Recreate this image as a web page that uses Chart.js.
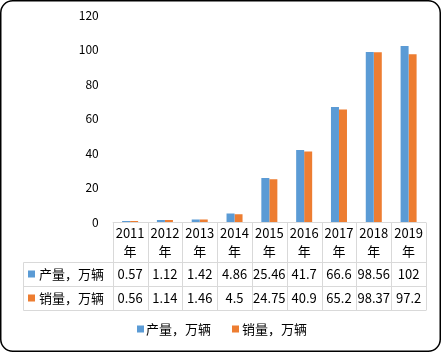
<!DOCTYPE html>
<html><head><meta charset="utf-8">
<script src="https://cdn.jsdelivr.net/npm/chart.js@4/dist/chart.umd.min.js"></script>
<style>html,body{margin:0;padding:0;background:#fff;}#wrap{width:441px;height:352px;position:relative;}</style>
</head><body><div id="wrap"><canvas id="c" width="441" height="352"></canvas></div>
<script>
const categories = ["2011年","2012年","2013年","2014年","2015年","2016年","2017年","2018年","2019年"];
const production = [0.57,1.12,1.42,4.86,25.46,41.7,66.6,98.56,102];
const sales = [0.56,1.14,1.46,4.5,24.75,40.9,65.2,98.37,97.2];
const productionLabels = ["0.57","1.12","1.42","4.86","25.46","41.7","66.6","98.56","102"];
const salesLabels = ["0.56","1.14","1.46","4.5","24.75","40.9","65.2","98.37","97.2"];
const seriesNames = ["产量，万辆","销量，万辆"];
const colors = ["#5b9bd5","#ed7d31"];
const FONT = '"Noto Sans CJK SC","Microsoft YaHei",sans-serif';

const tablePlugin = {
  id:'tablePlugin',
  beforeDraw(chart){
    const ctx = chart.ctx;
    ctx.save();
    ctx.fillStyle='#fff';ctx.fillRect(0,0,chart.width,chart.height);
    ctx.strokeStyle='#000';ctx.lineWidth=1.5;
    ctx.beginPath();
    ctx.roundRect(0.75,0.75,chart.width-1.5,chart.height-1.5,12);
    ctx.stroke();
    ctx.restore();
  },
  afterDraw(chart){
    const ctx = chart.ctx, x = chart.scales.x, ca = chart.chartArea;
    const n = categories.length;
    const colW = (ca.right-ca.left)/n;
    const top = Math.round(ca.bottom)+0.5;
    const r1 = top+40, r2 = r1+24, r3 = r2+24;
    const leftX = 23.5;
    ctx.save();
    ctx.strokeStyle='#d9d9d9';ctx.lineWidth=1;
    ctx.beginPath();
    ctx.moveTo(ca.left,top);ctx.lineTo(ca.right,top);
    [r1,r2,r3].forEach(y=>{ctx.moveTo(leftX,y);ctx.lineTo(ca.right,y);});
    for(let i=0;i<=n;i++){const xx=Math.round(ca.left+i*colW)+0.5;ctx.moveTo(xx,top);ctx.lineTo(xx,r3);}
    ctx.moveTo(leftX,r1);ctx.lineTo(leftX,r3);
    ctx.stroke();
    ctx.fillStyle='#000';ctx.textAlign='center';ctx.textBaseline='middle';
    ctx.font='13px '+FONT;
    for(let i=0;i<n;i++){
      const cx = x.getPixelForValue(i);
      const lab = categories[i];
      ctx.fillText(lab.slice(0,4),cx,top+11);
      ctx.fillText(lab.slice(4),cx,top+29);
      ctx.fillText(productionLabels[i],cx,r1+12);
      ctx.fillText(salesLabels[i],cx,r2+12);
    }
    ctx.textAlign='left';
    [[r1,0],[r2,1]].forEach(([y,k])=>{
      ctx.fillStyle=colors[k];ctx.fillRect(28,y+8,7,7);
      ctx.fillStyle='#000';ctx.fillText(seriesNames[k],39,y+12);
    });
    // legend
    const ly = 329;
    ctx.fillStyle=colors[0];ctx.fillRect(137,ly-3.5,7,7);
    ctx.fillStyle='#000';ctx.fillText(seriesNames[0],146,ly);
    ctx.fillStyle=colors[1];ctx.fillRect(232,ly-3.5,7,7);
    ctx.fillStyle='#000';ctx.fillText(seriesNames[1],242,ly);
    ctx.restore();
  }
};

new Chart(document.getElementById('c'),{
  type:'bar',
  data:{labels:categories,datasets:[
    {label:seriesNames[0],data:production,backgroundColor:colors[0],barPercentage:1,categoryPercentage:0.46},
    {label:seriesNames[1],data:sales,backgroundColor:colors[1],barPercentage:1,categoryPercentage:0.46}
  ]},
  options:{
    responsive:false,animation:false,devicePixelRatio:1,
    layout:{padding:{top:15,right:15,bottom:42,left:0}},
    plugins:{legend:{display:false},tooltip:{enabled:false}},
    scales:{
      x:{grid:{display:false},border:{display:false},ticks:{display:false},
         afterFit(s){s.height=88;s.paddingLeft=0;s.paddingRight=0;}},
      y:{min:0,max:120,ticks:{stepSize:20,color:'#000',font:{size:12,family:FONT},padding:14},
         grid:{display:false,drawTicks:false},border:{display:false},
         afterFit(s){s.width=112.7;s.paddingTop=0;s.paddingBottom=0;}}
    }
  },
  plugins:[tablePlugin]
});
</script></body></html>
